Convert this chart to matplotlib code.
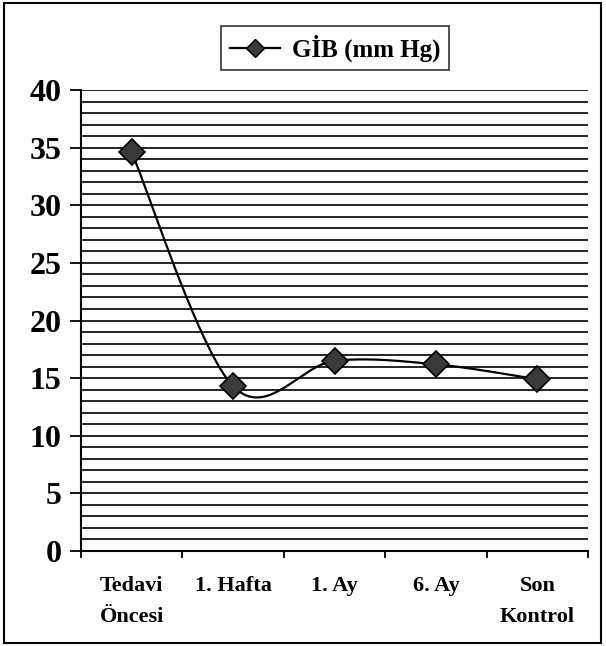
import numpy as np
import matplotlib
matplotlib.use("Agg")
import matplotlib.pyplot as plt
from matplotlib.patches import Rectangle
from matplotlib.lines import Line2D

categories = ["Tedavi\nÖncesi", "1. Hafta", "1. Ay", "6. Ay", "Son\nKontrol"]
values = [34.6, 14.3, 16.5, 16.2, 14.9]
series_name = "GİB (mm Hg)"
yticks = [0, 5, 10, 15, 20, 25, 30, 35, 40]

plt.rcParams['font.family'] = ['Liberation Serif', 'DejaVu Serif']

fig = plt.figure(figsize=(6.06, 6.46), dpi=100)
ax = fig.add_axes([81/606, 95/646, (588-81)/606, (556-95)/646])

x = np.arange(len(values), dtype=float)
y = np.array(values, dtype=float)

# Excel-like smoothed line (Catmull-Rom via cubic Bezier)
def smooth(px, py, n=40):
    pts = np.column_stack([px, py])
    out = []
    N = len(pts)
    for i in range(N - 1):
        p0 = pts[i - 1] if i > 0 else pts[i]
        p1 = pts[i]
        p2 = pts[i + 1]
        p3 = pts[i + 2] if i + 2 < N else pts[i + 1]
        c1 = p1 + (p2 - p0) / 6.0
        c2 = p2 - (p3 - p1) / 6.0
        t = np.linspace(0, 1, n)[:, None]
        seg = ((1 - t) ** 3) * p1 + 3 * ((1 - t) ** 2) * t * c1 + 3 * (1 - t) * t ** 2 * c2 + t ** 3 * p2
        out.append(seg if i == 0 else seg[1:])
    s = np.vstack(out)
    return s[:, 0], s[:, 1]

sx, sy = smooth(x, y)

# gridlines every 1 unit
for g in range(0, 41):
    ax.axhline(g, color='black', lw=1.2, zorder=1)

ax.plot(sx, sy, color='black', lw=1.6, zorder=3)
ax.plot(x, y, linestyle='none', marker='D', markersize=13, markerfacecolor='#3a3a3a',
        markeredgecolor='black', markeredgewidth=1.2, zorder=4)

ax.set_xlim(-0.5, len(values) - 0.5)
ax.set_ylim(0, 40)
ax.set_yticks(yticks)
ax.set_yticklabels([str(v) for v in yticks], fontsize=23, fontweight='bold')
ax.set_xticks(np.arange(-0.5, len(values), 1.0))
ax.set_xticklabels([])
ax.set_xticks(x, minor=True)
ax.set_xticklabels(categories, minor=True, fontsize=16, fontweight='bold', linespacing=1.75)
ax.tick_params(axis='x', which='minor', length=0, pad=18)
ax.tick_params(axis='x', which='major', length=5, width=1.3, direction='out')
ax.tick_params(axis='y', length=8, width=1.3, direction='out', pad=6)

for s in ['top', 'right']:
    ax.spines[s].set_visible(False)
for s in ['left', 'bottom']:
    ax.spines[s].set_linewidth(1.5)

# legend
handle = Line2D([0], [0], color='black', lw=1.6, marker='D', markersize=9,
                markerfacecolor='#3a3a3a', markeredgecolor='black')
leg = fig.legend([handle], [series_name], loc='center', bbox_to_anchor=(335/606, 1 - 48/646),
                 prop={'family': 'Liberation Serif', 'weight': 'bold', 'size': 18},
                 frameon=True, fancybox=False, edgecolor='black', handlelength=2.0,
                 borderpad=0.35, handletextpad=0.5)
leg.get_frame().set_linewidth(1.2)

# outer frame
fig.patches.append(Rectangle((4/606, 3/646), 597/606, 640/646, transform=fig.transFigure,
                             fill=False, edgecolor='black', lw=1.5))

fig.savefig("out.png", dpi=100)
